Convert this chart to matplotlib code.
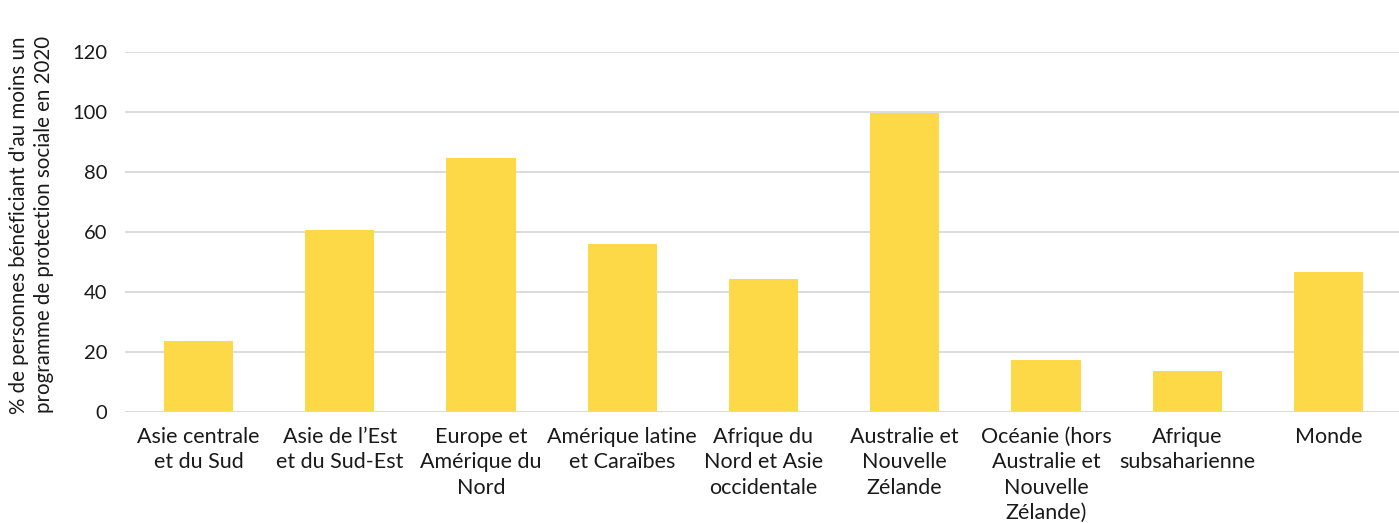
import numpy as np
import matplotlib.pyplot as plt

plt.rcParams['font.family'] = ['Lato', 'DejaVu Sans']

regions = [
    "Asie centrale\net du Sud",
    "Asie de l\u2019Est\net du Sud-Est",
    "Europe et\nAm\u00e9rique du\nNord",
    "Am\u00e9rique latine\net Cara\u00efbes",
    "Afrique du\nNord et Asie\noccidentale",
    "Australie et\nNouvelle\nZ\u00e9lande",
    "Oc\u00e9anie (hors\nAustralie et\nNouvelle\nZ\u00e9lande)",
    "Afrique\nsubsaharienne",
    "Monde",
]
coverage = [23.8, 60.8, 84.8, 56.1, 44.4, 99.7, 17.4, 13.8, 46.8]
yticks = [0, 20, 40, 60, 80, 100, 120]

fig = plt.figure(figsize=(13.99, 5.23), dpi=100)
ax = fig.add_axes([0.0894, 0.2122, 0.9106, 0.6884])

x = np.arange(len(regions))
ax.bar(x, coverage, width=0.49, color='#FDD947', zorder=2)

ax.set_ylim(0, 120)
ax.set_xlim(-0.52, len(regions) - 0.5)
ax.set_yticks(yticks)
ax.yaxis.grid(True, color='#D9D9D9', linewidth=1.3, zorder=0)
ax.axhline(0, color='#D9D9D9', linewidth=1.3, zorder=3)

for s in ax.spines.values():
    s.set_visible(False)

ax.set_xticks(x)
ax.set_xticklabels(regions, fontsize=15.5, color='#1a1a1a', linespacing=1.32)
ax.tick_params(axis='x', length=0, pad=11)
ax.tick_params(axis='y', length=0, pad=13, labelsize=14.5, labelcolor='#1a1a1a')

ax.set_ylabel("% de personnes b\u00e9n\u00e9ficiant d'au moins un\nprogramme de protection sociale en 2020",
              fontsize=14.8, color='#1a1a1a', linespacing=1.3)
ax.yaxis.set_label_coords(-0.056, 0.52)

fig.savefig('out.png', dpi=100)
